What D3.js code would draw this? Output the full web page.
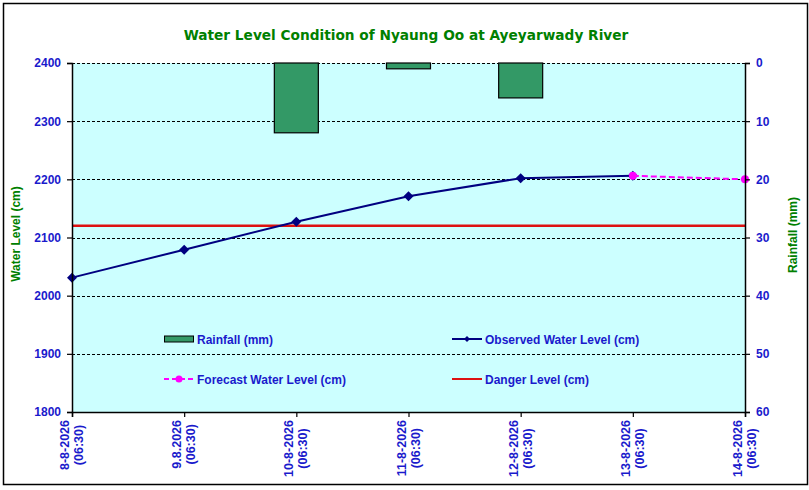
<!DOCTYPE html>
<html lang="en">
<head>
<meta charset="UTF-8">
<script src="https://d3js.org/d3.v7.min.js"></script>
<style>
  body { margin: 0; background: #fff; }
  svg { display: block; }
  .tick text { font-family: Arial, "Liberation Sans", sans-serif; font-weight: bold; fill: #1a1acc; }
</style>
</head>
<body>
<div id="chart"></div>
<script>
// data
const dates = ["8-8-2026", "9.8.2026", "10-8-2026", "11-8-2026", "12-8-2026", "13-8-2026", "14-8-2026"];
const timeLabel = "(06:30)";
const rainfall = [0, 0, 12, 1, 6, 0, 0];
const observed = [2031, 2079, 2127, 2171, 2202, 2206, null];
const forecast = [null, null, null, null, null, 2206, 2200];
const dangerLevel = 2120;
const levelTicks = [1800, 1900, 2000, 2100, 2200, 2300, 2400];
const rainTicks = [0, 10, 20, 30, 40, 50, 60];

const width = 809, height = 490;
const plot = { left: 72, right: 745, top: 63, bottom: 412 };

const svg = d3.select("#chart").append("svg")
    .attr("width", width)
    .attr("height", height);

// chart frame
svg.append("rect")
   .attr("x", 3.5).attr("y", 3.5)
   .attr("width", 804).attr("height", 481)
   .attr("fill", "#fff")
   .attr("stroke", "#000")
   .attr("stroke-width", 1.5);

const x = d3.scalePoint().domain(dates).range([plot.left, plot.right]);
const yLevel = d3.scaleLinear().domain([1800, 2400]).range([plot.bottom, plot.top]);
const yRain = d3.scaleLinear().domain([0, 60]).range([plot.top, plot.bottom]);

// plot background
svg.append("rect")
   .attr("x", plot.left).attr("y", plot.top)
   .attr("width", plot.right - plot.left)
   .attr("height", plot.bottom - plot.top)
   .attr("fill", "#ccffff");

// gridlines
svg.append("g")
   .selectAll("line")
   .data(levelTicks.filter(d => d > 1800))
   .enter().append("line")
   .attr("x1", plot.left).attr("x2", plot.right)
   .attr("y1", d => Math.round(yLevel(d)) + 0.5)
   .attr("y2", d => Math.round(yLevel(d)) + 0.5)
   .attr("stroke", "#000")
   .attr("stroke-width", 1)
   .attr("stroke-dasharray", "3,2");

// rainfall bars hanging from top
const barW = 44;
svg.append("g")
   .selectAll("rect")
   .data(rainfall.map((v, i) => ({ date: dates[i], value: v })).filter(d => d.value > 0))
   .enter().append("rect")
   .attr("x", d => x(d.date) - barW / 2)
   .attr("y", yRain(0))
   .attr("width", barW)
   .attr("height", d => yRain(d.value) - yRain(0))
   .attr("fill", "#339966")
   .attr("stroke", "#000")
   .attr("stroke-width", 1.2);

// danger level
svg.append("line")
   .attr("x1", plot.left).attr("x2", plot.right)
   .attr("y1", yLevel(dangerLevel)).attr("y2", yLevel(dangerLevel))
   .attr("stroke", "#dd1111")
   .attr("stroke-width", 2.5);

// observed line
const obsData = observed.map((v, i) => ({ date: dates[i], value: v })).filter(d => d.value !== null);
const line = d3.line().x(d => x(d.date)).y(d => yLevel(d.value));
svg.append("path")
   .datum(obsData)
   .attr("d", line)
   .attr("fill", "none")
   .attr("stroke", "#000080")
   .attr("stroke-width", 2);

svg.append("g")
   .selectAll("path")
   .data(obsData)
   .enter().append("path")
   .attr("d", d3.symbol(d3.symbolDiamond2, 64))
   .attr("transform", d => `translate(${x(d.date)},${yLevel(d.value)})`)
   .attr("fill", "#000080");

// forecast line
const fcData = forecast.map((v, i) => ({ date: dates[i], value: v })).filter(d => d.value !== null);
svg.append("path")
   .datum(fcData)
   .attr("d", line)
   .attr("fill", "none")
   .attr("stroke", "#ff00ff")
   .attr("stroke-width", 2)
   .attr("stroke-dasharray", "6,3");

svg.append("g")
   .selectAll("circle")
   .data(fcData)
   .enter().append("circle")
   .attr("cx", d => x(d.date))
   .attr("cy", d => yLevel(d.value))
   .attr("r", 4)
   .attr("fill", "#ff00ff");

// axes
const leftAxis = svg.append("g")
   .attr("transform", `translate(${plot.left},0)`)
   .call(d3.axisLeft(yLevel).tickValues(levelTicks).tickFormat(d3.format("d")).tickSize(5).tickPadding(6));
leftAxis.selectAll("text").style("font-size", "12px");

const rightAxis = svg.append("g")
   .attr("transform", `translate(${plot.right},0)`)
   .call(d3.axisRight(yRain).tickValues(rainTicks).tickSize(5).tickPadding(6));
rightAxis.selectAll("text").style("font-size", "12px");

const bottomAxis = svg.append("g")
   .attr("transform", `translate(0,${plot.bottom})`)
   .call(d3.axisBottom(x).tickSize(5).tickFormat(""));

[leftAxis, rightAxis, bottomAxis].forEach(a => {
  a.select(".domain").attr("stroke", "#000").attr("stroke-width", 1.5);
  a.selectAll(".tick line").attr("stroke", "#000").attr("stroke-width", 1.2);
});

// rotated date labels: two centred lines, block top just under the axis
const xl = svg.append("g")
   .selectAll("g")
   .data(dates)
   .enter().append("g")
   .attr("transform", d => `translate(${x(d)},${plot.bottom}) rotate(-90)`)
   .style("font-family", "Arial, 'Liberation Sans', sans-serif")
   .style("font-weight", "bold")
   .style("font-size", "12.5px")
   .attr("fill", "#1a1acc");

xl.each(function(d) {
  const g = d3.select(this);
  const t1 = g.append("text").attr("text-anchor", "middle").attr("y", -3).text(d);
  const len = t1.node().getComputedTextLength();
  const mid = -(8 + len / 2);
  t1.attr("x", mid);
  g.append("text").attr("text-anchor", "middle").attr("x", mid).attr("y", 11).text(timeLabel);
});

// title
svg.append("text")
   .attr("x", 406).attr("y", 40)
   .attr("text-anchor", "middle")
   .style("font-family", "'DejaVu Sans', Verdana, sans-serif")
   .style("font-weight", "bold")
   .style("font-size", "13.7px")
   .attr("fill", "#008000")
   .text("Water Level Condition of Nyaung Oo at Ayeyarwady River");

// axis titles
svg.append("text")
   .attr("transform", "translate(20,234) rotate(-90)")
   .attr("text-anchor", "middle")
   .style("font-family", "Arial, 'Liberation Sans', sans-serif")
   .style("font-weight", "bold")
   .style("font-size", "12px")
   .attr("fill", "#008000")
   .text("Water Level (cm)");

svg.append("text")
   .attr("transform", "translate(797,235) rotate(-90)")
   .attr("text-anchor", "middle")
   .style("font-family", "Arial, 'Liberation Sans', sans-serif")
   .style("font-weight", "bold")
   .style("font-size", "12px")
   .attr("fill", "#008000")
   .text("Rainfall (mm)");

// legend
const legend = svg.append("g")
   .style("font-family", "Arial, 'Liberation Sans', sans-serif")
   .style("font-weight", "bold")
   .style("font-size", "12px");

const items = [
  { label: "Rainfall (mm)", kind: "bar", x: 164, y: 339 },
  { label: "Observed Water Level (cm)", kind: "obs", x: 452, y: 339 },
  { label: "Forecast Water Level (cm)", kind: "fc", x: 164, y: 379 },
  { label: "Danger Level (cm)", kind: "danger", x: 452, y: 379 }
];

items.forEach(it => {
  const g = legend.append("g").attr("transform", `translate(${it.x},${it.y})`);
  if (it.kind === "bar") {
    g.append("rect").attr("x", 0.5).attr("y", -3).attr("width", 29).attr("height", 6)
     .attr("fill", "#339966").attr("stroke", "#000").attr("stroke-width", 1);
  } else if (it.kind === "obs") {
    g.append("line").attr("x1", 0).attr("x2", 30).attr("stroke", "#000080").attr("stroke-width", 2);
    g.append("path").attr("d", d3.symbol(d3.symbolDiamond2, 24)).attr("transform", "translate(15,0)").attr("fill", "#000080");
  } else if (it.kind === "fc") {
    g.append("line").attr("x1", 0).attr("x2", 30).attr("stroke", "#ff00ff").attr("stroke-width", 2).attr("stroke-dasharray", "5,3");
    g.append("circle").attr("cx", 15).attr("r", 3.5).attr("fill", "#ff00ff");
  } else {
    g.append("line").attr("x1", 0).attr("x2", 30).attr("stroke", "#dd1111").attr("stroke-width", 2);
  }
  g.append("text").attr("x", 33).attr("y", 4.5).attr("fill", "#1a1acc").text(it.label);
});
</script>
</body>
</html>
